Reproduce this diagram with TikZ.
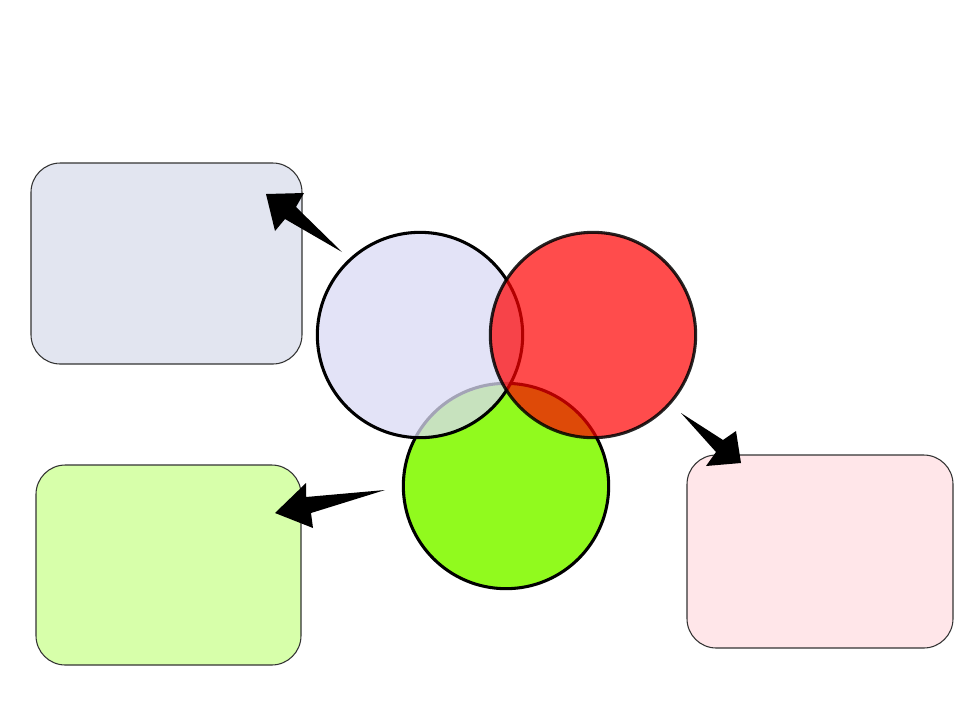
\documentclass[tikz,border=0pt]{standalone}
\begin{document}
\begin{tikzpicture}[x=0.75pt,y=-0.75pt]
\useasboundingbox (0,0) rectangle (963,722);
\definecolor{boxblue}{RGB}{226,229,240}
\definecolor{boxgreen}{RGB}{215,255,170}
\definecolor{boxpink}{RGB}{255,230,233}
\definecolor{cirlav}{RGB}{218,218,244}
\definecolor{cirgreen}{RGB}{145,250,30}
\tikzset{
  infobox/.style={draw=black!80, line width=0.8pt, rounded corners=22pt},
  ring/.style={draw=black, line width=2.3pt, circle, minimum size=154pt, inner sep=0pt},
  bigarrow/.style={fill=black, draw=none}
}
% boxes
\filldraw[infobox, fill=boxblue] (31,163) rectangle (302,364);
\filldraw[infobox, fill=boxgreen] (36,465) rectangle (301,665);
\filldraw[infobox, fill=boxpink] (687,455) rectangle (953,648);
% circles
\node[ring, fill=cirgreen] (cg) at (506,486) {};
\node[ring, fill=cirlav, fill opacity=0.75, draw opacity=1] (cl) at (420,335) {};
\node[ring, fill=red, fill opacity=0.7, draw opacity=0.85] (cr) at (593,335) {};
% arrows
\fill[bigarrow] (266,194) -- (304,193) -- (296,207) -- (342,252) -- (285,219) -- (275,231) -- cycle;
\fill[bigarrow] (275,513) -- (306,483) -- (306,497) -- (385,490) -- (311,513) -- (313,528) -- cycle;
\fill[bigarrow] (741,463) -- (736,431) -- (723,440) -- (681,413) -- (716,452) -- (706,466) -- cycle;
\end{tikzpicture}
\end{document}
